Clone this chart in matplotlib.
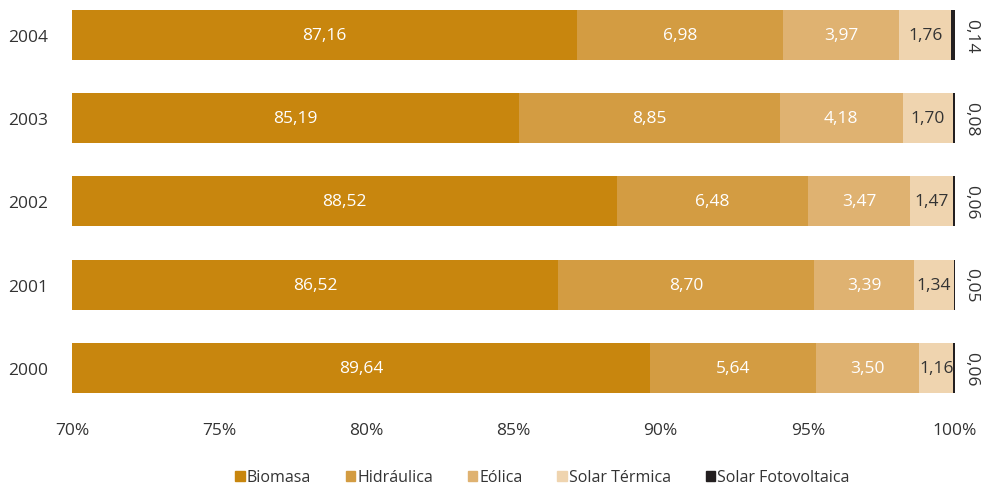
import matplotlib.pyplot as plt
import numpy as np
from matplotlib.patches import Patch

plt.rcParams["font.family"] = ["Open Sans", "DejaVu Sans"]

years = ["2000", "2001", "2002", "2003", "2004"]
series = ["Biomasa", "Hidráulica", "Eólica", "Solar Térmica", "Solar Fotovoltaica"]
biomasa = [89.64, 86.52, 88.52, 85.19, 87.16]
hidraulica = [5.64, 8.70, 6.48, 8.85, 6.98]
eolica = [3.50, 3.39, 3.47, 4.18, 3.97]
solar_termica = [1.16, 1.34, 1.47, 1.70, 1.76]
solar_fv = [0.06, 0.05, 0.06, 0.08, 0.14]

colors = ["#C8860E", "#D39C42", "#DFB271", "#EFD4AF", "#231F20"]
text_colors = ["white", "white", "white", "#333333", "#333333"]

values = np.array([biomasa, hidraulica, eolica, solar_termica, solar_fv])
xmin, xmax = 70, 100

fig = plt.figure(figsize=(9.86, 4.85), dpi=100)
ax = fig.add_axes([0.073, 0.1845, 0.8956, 0.7963])

y = np.arange(len(years))
left = np.zeros(len(years))
for k, (name, vals) in enumerate(zip(series, values)):
    ax.barh(y, vals, left=left, height=0.6, color=colors[k], label=name)
    for i, v in enumerate(vals):
        txt = f"{v:.2f}".replace(".", ",")
        if k < 4:
            # centre of the visible part of the segment
            lo = max(left[i], xmin)
            ax.text((lo + left[i] + v) / 2, y[i], txt, ha="center", va="center",
                    color=text_colors[k], fontsize=12.5)
        else:
            ax.text(100.55, y[i], txt, ha="center", va="center", rotation=-90,
                    color="#333333", fontsize=12.5, clip_on=False)
    left += vals

ax.set_xlim(xmin, xmax)
ax.set_ylim(-0.32, 4.32)
ax.set_xticks(np.arange(70, 101, 5))
ax.set_xticklabels([f"{t}%" for t in range(70, 101, 5)])
ax.set_yticks(y)
ax.set_yticklabels(years)
ax.tick_params(length=0, labelsize=12.5, colors="#333333")
ax.tick_params(axis="y", pad=17)
ax.tick_params(axis="x", pad=20)
for s in ax.spines.values():
    s.set_visible(False)

handles = [Patch(color=c) for c in colors]
fig.legend(handles, series, loc="center", bbox_to_anchor=(0.55, 0.014),
           ncol=5, frameon=False, fontsize=11.5, handlelength=0.6,
           handleheight=0.6, handletextpad=0.1, columnspacing=2.2,
           labelcolor="#333333")

plt.savefig("out.png")
plt.close(fig)
